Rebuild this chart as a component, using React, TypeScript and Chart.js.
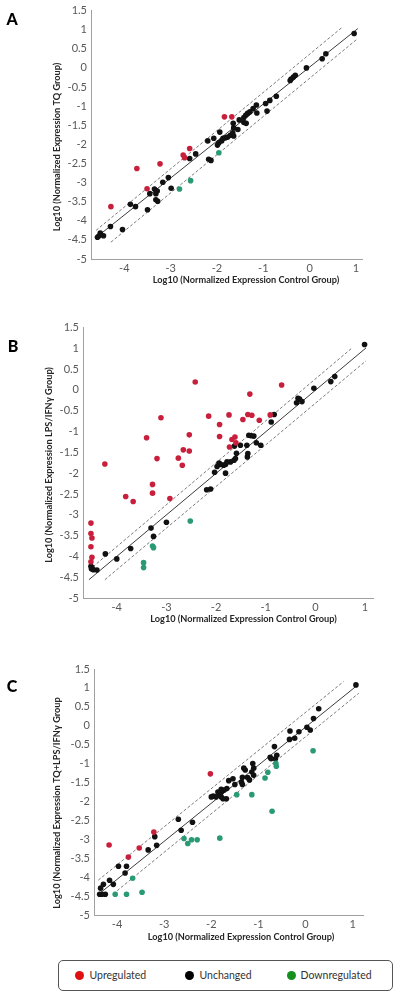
import React, { useEffect, useRef } from "react";
import { Chart, registerables } from "chart.js";

Chart.register(...registerables);

type Pt = [number, number];

// ---------- shared ----------
const xTickValues = [-4, -3, -2, -1, 0, 1];
const yMin = -5;
const yMax = 1.5;
const yStep = 0.5;
const xAxisTitle = "Log10 (Normalized Expression Control Group)";
const legendLabels = ["Upregulated", "Unchanged", "Downregulated"];

// ---------- panel A (TQ vs control) ----------
const aUp: Pt[] = [
  [-1.84, -1.28], [-1.68, -1.28], [-2.59, -2.11], [-2.73, -2.28], [-2.70, -2.35],
  [-3.73, -2.63], [-3.23, -2.51], [-3.51, -3.16], [-4.29, -3.63],
];
const aDown: Pt[] = [[-1.96, -2.22], [-2.57, -2.95], [-2.81, -3.17]];
const aUnchanged: Pt[] = [
  [0.96, 0.90], [0.27, 0.24], [0.35, 0.37], [-0.07, 0.0], [-0.31, -0.19], [-0.35, -0.24],
  [-0.40, -0.29], [-0.42, -0.33], [-0.72, -0.74], [-0.86, -0.85], [-0.95, -0.93], [-0.92, -1.13],
  [-1.15, -0.97], [-1.22, -1.06], [-1.14, -1.18], [-1.29, -1.15], [-1.34, -1.19], [-1.38, -1.24],
  [-1.42, -1.30], [-1.52, -1.36], [-1.42, -1.43], [-1.37, -1.45], [-1.55, -1.61], [-1.65, -1.45],
  [-1.64, -1.57], [-1.66, -1.70], [-1.64, -1.78], [-1.71, -1.76], [-1.77, -1.81], [-1.82, -1.83],
  [-1.87, -1.84], [-1.90, -1.91], [-1.94, -1.68], [-1.96, -1.96], [-1.99, -2.02], [-2.07, -1.84],
  [-2.20, -1.91], [-2.18, -2.39], [-2.13, -2.42], [-2.46, -2.25], [-2.59, -2.37], [-3.05, -2.87],
  [-3.17, -2.99], [-2.99, -3.15], [-3.35, -3.17], [-3.29, -3.22], [-3.32, -3.29], [-3.45, -3.29],
  [-3.32, -3.45], [-3.28, -3.49], [-3.50, -3.71], [-3.87, -3.57], [-3.76, -3.63], [-4.30, -4.15],
  [-4.04, -4.23], [-4.52, -4.32], [-4.55, -4.40], [-4.58, -4.43], [-4.45, -4.39],
];
const aSolid: Pt[] = [[-4.58, -4.41], [1.04, 1.03]];
const aUpper: Pt[] = [[-4.61, -4.25], [0.71, 1.07]];
const aLower: Pt[] = [[-4.29, -4.56], [1.02, 0.75]];

// ---------- panel B (LPS/IFNγ vs control) ----------
const bUp: Pt[] = [
  [-2.42, 0.19], [-0.68, 0.12], [-1.32, -0.10], [-3.11, -0.67], [-2.15, -0.63], [-1.74, -0.60],
  [-1.36, -0.59], [-1.28, -0.61], [-1.46, -0.71], [-1.13, -0.73], [-0.91, -0.60], [-1.93, -0.83],
  [-3.40, -1.15], [-2.54, -1.08], [-1.93, -1.12], [-1.68, -1.19], [-1.62, -1.13], [-1.60, -1.27],
  [-1.73, -1.37], [-2.66, -1.44], [-2.54, -1.47], [-3.19, -1.65], [-2.76, -1.64], [-2.68, -1.81],
  [-4.24, -1.78], [-3.28, -2.27], [-3.28, -2.48], [-3.82, -2.56], [-3.67, -2.68], [-2.93, -2.61],
  [-4.52, -3.20], [-4.52, -3.45], [-4.50, -3.56], [-4.52, -3.77], [-4.50, -4.02], [-4.52, -4.13],
];
const bDown: Pt[] = [[-2.52, -3.15], [-3.28, -3.75], [-3.26, -3.79], [-3.46, -4.15], [-3.46, -4.27]];
const bUnchanged: Pt[] = [
  [0.99, 1.09], [0.39, 0.32], [0.31, 0.20], [-0.03, 0.04], [-0.35, -0.20], [-0.32, -0.22],
  [-0.38, -0.31], [-0.27, -0.28], [-0.83, -0.59], [-0.89, -0.77], [-1.34, -1.09], [-1.29, -1.10],
  [-1.24, -1.11], [-1.38, -1.33], [-1.19, -1.27], [-1.10, -1.33], [-1.51, -1.33], [-1.63, -1.35],
  [-1.59, -1.52], [-1.36, -1.53], [-1.37, -1.61], [-1.61, -1.65], [-1.64, -1.69], [-1.71, -1.73],
  [-1.78, -1.73], [-1.81, -1.79], [-1.85, -1.81], [-1.91, -1.79], [-1.94, -1.76], [-1.98, -1.84],
  [-1.81, -2.00], [-2.03, -1.98], [-2.19, -2.40], [-2.11, -2.38], [-3.00, -3.18], [-3.31, -3.32],
  [-3.26, -3.52], [-3.72, -3.81], [-4.23, -3.94], [-4.00, -4.06], [-4.52, -4.24], [-4.51, -4.30],
  [-4.47, -4.32], [-4.40, -4.33], [-4.50, -4.27],
];
const bSolid: Pt[] = [[-4.56, -4.56], [1.02, 1.01]];
const bUpper: Pt[] = [[-4.48, -4.25], [0.74, 1.01]];
const bLower: Pt[] = [[-4.24, -4.56], [1.02, 0.70]];

// ---------- panel C (TQ+LPS/IFNγ vs control) ----------
const cUp: Pt[] = [[-2.02, -1.27], [-3.22, -2.81], [-4.17, -3.15], [-3.53, -3.23], [-3.76, -3.47]];
const cDown: Pt[] = [
  [0.16, -0.66], [-0.63, -0.99], [-0.62, -1.07], [-0.80, -1.23], [-0.86, -1.38], [-1.46, -1.82],
  [-1.14, -1.82], [-0.71, -2.26], [-1.82, -2.97], [-2.58, -2.98], [-2.50, -3.11], [-2.42, -3.01],
  [-2.30, -3.01], [-3.67, -4.03], [-3.47, -4.40], [-4.04, -4.45], [-3.80, -4.45],
];
const cUnchanged: Pt[] = [
  [1.07, 1.08], [0.28, 0.45], [0.17, 0.19], [0.03, -0.04], [0.10, -0.11], [-0.14, -0.16],
  [-0.23, -0.33], [-0.33, -0.14], [-0.34, -0.36], [-0.66, -0.55], [-0.61, -0.78], [-0.64, -0.87],
  [-0.75, -0.83], [-0.73, -0.87], [-1.12, -1.00], [-1.10, -1.12], [-1.31, -1.12], [-1.28, -1.17],
  [-1.14, -1.22], [-1.10, -1.31], [-1.34, -1.36], [-1.23, -1.37], [-1.19, -1.43], [-1.54, -1.40],
  [-1.63, -1.45], [-1.50, -1.55], [-1.36, -1.49], [-1.34, -1.55], [-1.67, -1.66], [-1.73, -1.70],
  [-1.79, -1.75], [-1.86, -1.75], [-1.82, -1.82], [-1.79, -1.88], [-1.75, -1.93], [-1.68, -1.93],
  [-1.90, -1.88], [-1.96, -1.86], [-2.00, -1.88], [-1.79, -1.68], [-2.70, -2.47], [-2.40, -2.55],
  [-2.64, -2.76], [-3.20, -2.93], [-3.16, -3.16], [-3.34, -3.28], [-3.97, -3.71], [-3.80, -3.71],
  [-3.83, -3.89], [-4.16, -4.08], [-4.08, -4.19], [-4.29, -4.19], [-4.35, -4.29], [-4.37, -4.45],
  [-4.32, -4.45], [-4.25, -4.45],
];
const cSolid: Pt[] = [[-4.38, -4.44], [1.07, 1.04]];
const cUpper: Pt[] = [[-4.40, -4.08], [0.81, 1.17]];
const cLower: Pt[] = [[-4.08, -4.44], [1.13, 0.86]];

// ---------- styles ----------
const RED = "#c8203c";
const BLACK = "#111111";
const GREEN = "#2a9a72";
const LEGEND_RED = "#e01010";
const LEGEND_GREEN = "#14901e";
const FONT = "Lato, 'Open Sans', sans-serif";

type PanelCfg = {
  letter: string;
  yTitle: string;
  up: Pt[]; unchanged: Pt[]; down: Pt[];
  solid: Pt[]; upper: Pt[]; lower: Pt[];
  xMin: number; xMax: number;
  top: number; height: number;
  areaLeft: number; areaRight: number; areaTop: number; areaBottom: number;
  letterPos: [number, number];
  xTitlePos: [number, number];
  yTitlePos: [number, number];
};

const panels: PanelCfg[] = [
  {
    letter: "A", yTitle: "Log10 (Normalized Expression TQ Group)",
    up: aUp, unchanged: aUnchanged, down: aDown, solid: aSolid, upper: aUpper, lower: aLower,
    xMin: -4.72, xMax: 1.13, top: 0, height: 300,
    areaLeft: 91, areaRight: 362, areaTop: 10, areaBottom: 259,
    letterPos: [12, 20], xTitlePos: [246, 280], yTitlePos: [57, 147],
  },
  {
    letter: "B", yTitle: "Log10 (Normalized Expression LPS/IFNγ Group)",
    up: bUp, unchanged: bUnchanged, down: bDown, solid: bSolid, upper: bUpper, lower: bLower,
    xMin: -4.68, xMax: 1.16, top: 310, height: 320,
    areaLeft: 83, areaRight: 373, areaTop: 17.5, areaBottom: 288,
    letterPos: [13, 37], xTitlePos: [243.5, 309], yTitlePos: [49, 155],
  },
  {
    letter: "C", yTitle: "Log10 (Normalized Expression TQ+LPS/IFNγ Group",
    up: cUp, unchanged: cUnchanged, down: cDown, solid: cSolid, upper: cUpper, lower: cLower,
    xMin: -4.49, xMax: 1.22, top: 640, height: 320,
    areaLeft: 94, areaRight: 363, areaTop: 29, areaBottom: 275,
    letterPos: [12, 47], xTitlePos: [241, 297], yTitlePos: [57, 163],
  },
];

const toXY = (pts: Pt[]) => pts.map(([x, y]) => ({ x, y }));

function Panel({ cfg }: { cfg: PanelCfg }) {
  const ref = useRef<HTMLCanvasElement | null>(null);
  useEffect(() => {
    if (!ref.current) return;
    const textPlugin = {
      id: "panelText",
      afterDraw(chart: any) {
        const ctx = chart.ctx as CanvasRenderingContext2D;
        ctx.save();
        ctx.textAlign = "center";
        ctx.textBaseline = "middle";
        ctx.fillStyle = "#000";
        ctx.font = `900 16px ${FONT}`;
        ctx.fillText(cfg.letter, cfg.letterPos[0], cfg.letterPos[1]);
        ctx.fillStyle = "#262626";
        ctx.font = `bold 9.2px ${FONT}`;
        ctx.fillText(xAxisTitle, cfg.xTitlePos[0], cfg.xTitlePos[1]);
        ctx.translate(cfg.yTitlePos[0], cfg.yTitlePos[1]);
        ctx.rotate(-Math.PI / 2);
        ctx.fillText(cfg.yTitle, 0, 0);
        ctx.restore();
      },
    };
    const pointDs = (label: string, pts: Pt[], color: string) => ({
      label,
      data: toXY(pts),
      backgroundColor: color,
      borderColor: color,
      pointRadius: 2.8,
      pointBorderWidth: 0,
      showLine: false,
    });
    const lineDs = (label: string, pts: Pt[], color: string, dash: number[]) => ({
      label,
      data: toXY(pts),
      showLine: true,
      borderColor: color,
      borderWidth: 1,
      borderDash: dash,
      pointRadius: 0,
      fill: false,
    });
    const tickFont = { family: FONT, size: 11 };
    const chart = new Chart(ref.current, {
      type: "scatter",
      data: {
        datasets: [
          pointDs(legendLabels[0], cfg.up, RED),
          pointDs(legendLabels[2], cfg.down, GREEN),
          pointDs(legendLabels[1], cfg.unchanged, BLACK),
          lineDs("y=x", cfg.solid, "#3c3c3c", []),
          lineDs("upper", cfg.upper, "#7a7a7a", [3, 2]),
          lineDs("lower", cfg.lower, "#7a7a7a", [3, 2]),
        ] as any,
      },
      options: {
        responsive: false,
        animation: false,
        events: [],
        layout: {
          padding: { left: 0, top: cfg.areaTop, right: 400 - cfg.areaRight, bottom: 0 },
        },
        plugins: { legend: { display: false }, tooltip: { enabled: false }, title: { display: false } },
        scales: {
          x: {
            type: "linear",
            min: cfg.xMin,
            max: cfg.xMax,
            afterBuildTicks: (s: any) => {
              s.ticks = xTickValues.map((v) => ({ value: v }));
            },
            afterFit: (s: any) => {
              s.height = cfg.height - cfg.areaBottom;
            },
            grid: { drawOnChartArea: false, drawTicks: false, color: "transparent" },
            border: { display: true, color: "#a0a0a0", width: 1 },
            ticks: {
              color: "#595959", font: tickFont, padding: 3, autoSkip: false, maxRotation: 0,
              callback: (v: any) => String(v),
            },
          },
          y: {
            type: "linear",
            min: yMin,
            max: yMax,
            afterFit: (s: any) => {
              s.width = cfg.areaLeft;
            },
            grid: { drawOnChartArea: false, drawTicks: false, color: "transparent" },
            border: { display: true, color: "#a0a0a0", width: 1 },
            ticks: {
              stepSize: yStep, color: "#595959", font: tickFont, padding: 4, autoSkip: false,
              callback: (v: any) => String(v),
            },
          },
        },
      } as any,
      plugins: [textPlugin],
    });
    return () => chart.destroy();
  }, [cfg]);
  return (
    <canvas
      ref={ref}
      width={400}
      height={cfg.height}
      style={{ position: "absolute", left: 0, top: cfg.top, width: 400, height: cfg.height }}
    />
  );
}

function Legend() {
  const items = [
    { label: legendLabels[0], color: LEGEND_RED, dot: 80, text: 90 },
    { label: legendLabels[1], color: "#000", dot: 190, text: 200 },
    { label: legendLabels[2], color: LEGEND_GREEN, dot: 292, text: 301 },
  ];
  return (
    <div
      style={{
        position: "absolute", left: 58, top: 960, width: 335, height: 31,
        boxSizing: "border-box", border: "1.5px solid #555", borderRadius: 5, background: "#fff",
      }}
    >
      {items.map((it) => (
        <React.Fragment key={it.label}>
          <div
            style={{
              position: "absolute", left: it.dot - 58 - 4.5 - 1.5, top: 15.5 - 4.5 - 1.5,
              width: 9, height: 9, borderRadius: "50%", background: it.color,
            }}
          />
          <div
            style={{
              position: "absolute", left: it.text - 58 - 1.5, top: 0, height: 28,
              lineHeight: "28px", fontFamily: FONT, fontSize: 10.5, color: "#333", whiteSpace: "nowrap",
            }}
          >
            {it.label}
          </div>
        </React.Fragment>
      ))}
    </div>
  );
}

export default function App() {
  return (
    <div style={{ position: "absolute", left: 0, top: 0, width: 400, height: 998, background: "#fff" }}>
      {panels.map((p) => (
        <Panel key={p.letter} cfg={p} />
      ))}
      <Legend />
    </div>
  );
}
